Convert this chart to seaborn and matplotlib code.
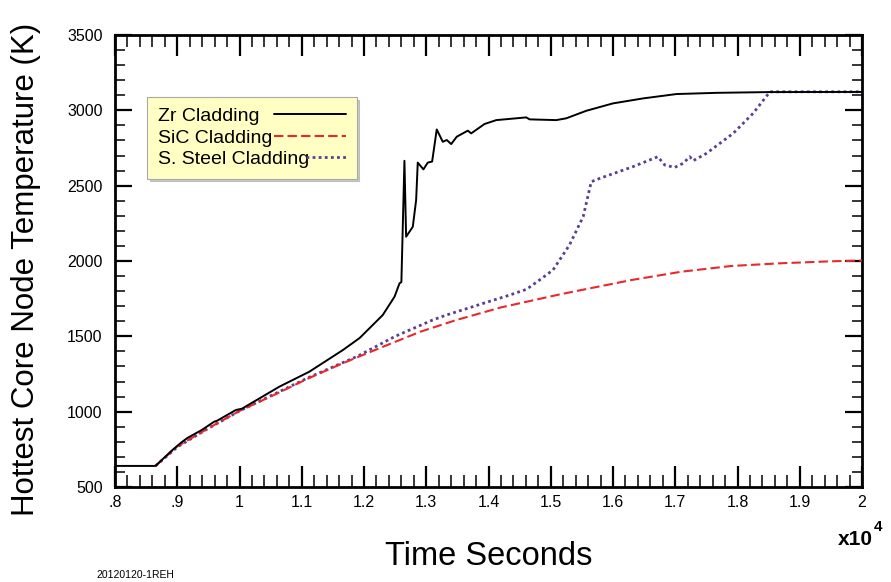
import matplotlib
matplotlib.use("Agg")
import matplotlib.pyplot as plt
from matplotlib.ticker import MultipleLocator
import seaborn as sns

# data (time in s, temperature in K)
zr_time = [8000, 8650, 8920, 9060, 9160, 9400, 9590, 9640, 9940, 10040, 10640, 11120,
           11660, 11930, 12300, 12490, 12570, 12600, 12649, 12676, 12783, 12837, 12863,
           12954, 13024, 13094, 13168, 13265, 13329, 13400, 13490, 13667, 13721, 13935,
           14124, 14606, 14659, 15088, 15249, 15571, 15999, 16482, 17019, 17662, 18500,
           20000]
zr_temp = [640, 640, 745, 794, 825, 880, 933, 940, 1011, 1020, 1166, 1265,
           1409, 1489, 1641, 1763, 1852, 1860, 2665, 2161, 2227, 2404, 2653,
           2608, 2653, 2660, 2873, 2791, 2803, 2776, 2825, 2865, 2847, 2909,
           2935, 2953, 2940, 2935, 2947, 2997, 3046, 3079, 3108, 3116, 3121,
           3122]

sic_time = [8650, 9000, 9500, 10000, 10600, 11100, 11650, 12300, 12900, 13480, 14200,
            15140, 15500, 16300, 17100, 17900, 18700, 19500, 20000]
sic_temp = [640, 770, 890, 1005, 1120, 1220, 1320, 1430, 1530, 1608, 1692,
            1778, 1808, 1874, 1929, 1967, 1985, 1998, 2003]

ss_time = [8650, 9000, 9500, 10000, 10600, 11100, 11900, 12500, 13100, 13320, 14000,
           14340, 14610, 14820, 15035, 15300, 15520, 15650, 15785, 16320, 16720, 16830,
           16990, 17125, 17233, 17286, 17500, 17930, 18250, 18520, 20000]
ss_temp = [640, 765, 890, 1005, 1125, 1225, 1369, 1500, 1608, 1641, 1730,
           1774, 1812, 1874, 1940, 2106, 2294, 2526, 2548, 2626, 2692, 2637,
           2621, 2648, 2692, 2665, 2714, 2847, 2980, 3123, 3123]

series_labels = ["Zr Cladding", "SiC Cladding", "S. Steel Cladding"]
xtick_values = [8000, 9000, 10000, 11000, 12000, 13000, 14000, 15000, 16000, 17000,
                18000, 19000, 20000]
xtick_labels = [".8", ".9", "1", "1.1", "1.2", "1.3", "1.4", "1.5", "1.6", "1.7",
                "1.8", "1.9", "2"]
ytick_values = [500, 1000, 1500, 2000, 2500, 3000, 3500]

sns.set_theme(style="ticks")
plt.rcParams["font.family"] = ["Liberation Sans", "DejaVu Sans"]
plt.rcParams["text.color"] = "black"
plt.rcParams["axes.labelcolor"] = "black"

fig = plt.figure(figsize=(8.91, 5.82), dpi=100)
ax = fig.add_axes([0.1291, 0.1632, 0.8384, 0.7767])

sns.lineplot(x=zr_time, y=zr_temp, ax=ax, color="black", linewidth=1.4,
             sort=False, estimator=None, label=series_labels[0], zorder=4)
sns.lineplot(x=sic_time, y=sic_temp, ax=ax, color="#e8282a", linewidth=1.5,
             sort=False, estimator=None, label=series_labels[1], zorder=3)
sns.lineplot(x=ss_time, y=ss_temp, ax=ax, color="#5b3e92", linewidth=2.0,
             sort=False, estimator=None, label=series_labels[2], zorder=2)
ax.lines[1].set_linestyle((0, (4.5, 2)))
ax.lines[2].set_linestyle((0, (1, 1.2)))

ax.set_xlim(8000, 20000)
ax.set_ylim(500, 3500)
ax.set_xticks(xtick_values)
ax.set_xticklabels(xtick_labels)
ax.set_yticks(ytick_values)
ax.xaxis.set_minor_locator(MultipleLocator(200))
ax.yaxis.set_minor_locator(MultipleLocator(100))

for s in ax.spines.values():
    s.set_visible(True)
    s.set_linewidth(2.0)
    s.set_color("black")

ax.tick_params(axis="x", which="major", direction="in", length=15, width=1.6,
               top=True, bottom=True, labelsize=11.5, pad=6, colors="black")
ax.tick_params(axis="x", which="minor", direction="in", length=8.5, width=1.1,
               top=True, bottom=True, colors="black")
ax.tick_params(axis="y", which="major", direction="in", length=12, width=1.6,
               left=True, right=True, labelsize=11.5, pad=9, colors="black")
ax.tick_params(axis="y", which="minor", direction="in", length=7, width=1.1,
               left=True, right=True, colors="black")

ax.set_xlabel("")
ax.set_ylabel("")
fig.text(0.1291 + 0.8384 / 2, 0.044, "Time Seconds", fontsize=23.5,
         ha="center", va="center")
fig.text(0.029, 0.538, "Hottest Core Node Temperature (K)", fontsize=22.5,
         rotation=90, ha="center", va="center")
fig.text(0.980, 0.073, "x10", fontsize=15, fontweight="bold", ha="right", va="center")
fig.text(0.981, 0.094, "4", fontsize=11, fontweight="bold", ha="left", va="center")
fig.text(0.108, 0.012, "20120120-1REH", fontsize=7.5, ha="left", va="center")

leg = ax.legend(loc="upper left", bbox_to_anchor=(0.043, 0.863), borderaxespad=0,
                markerfirst=False, fontsize=14, handlelength=72 / (14 * 100 / 72),
                handletextpad=0.3, labelspacing=0.19, borderpad=0.55,
                fancybox=False, shadow={"color": "0.55", "alpha": 0.45},
                framealpha=1, facecolor="#ffffc4", edgecolor="#a8a8a8")
leg.get_frame().set_linewidth(0.8)

# left-aligned text with line samples ending on a common right edge
fig.canvas.draw()
renderer = fig.canvas.get_renderer()
px2pt = 72 / fig.dpi
row_px = 188
handle_px = 72
column = leg._legend_handle_box.get_children()[0]
column.align = "left"
for item, txt in zip(column.get_children(), leg.get_texts()):
    w = txt.get_window_extent(renderer).width
    item.sep = (row_px - w - handle_px) * px2pt
ss_line = leg.legend_handles[2]
x_end = ss_line.get_xdata()[-1]
y0 = ss_line.get_ydata()[0]
ss_line.set_data([x_end - 40 * px2pt, x_end], [y0, y0])

fig.savefig("out.png", dpi=100, facecolor="white")
